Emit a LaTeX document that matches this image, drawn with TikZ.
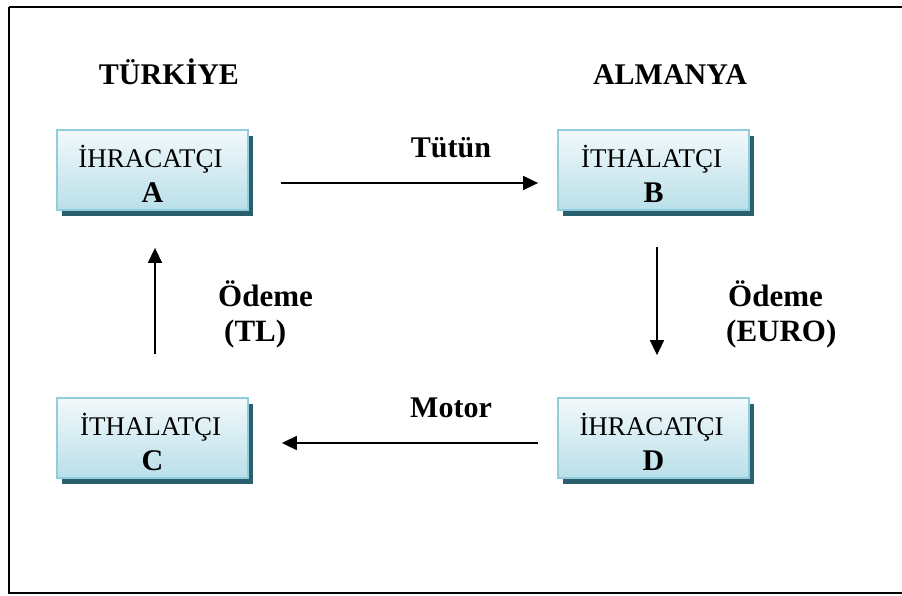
\documentclass[tikz,border=0pt]{standalone}
\usepackage{fontspec}
\setmainfont{Liberation Serif}
\usetikzlibrary{arrows.meta,shadows,calc}
\definecolor{boxborder}{HTML}{93CDDD}
\definecolor{boxtop}{HTML}{F2F9FB}
\definecolor{boxbot}{HTML}{B9DFE9}
\definecolor{boxshadow}{HTML}{2A5F6E}
\tikzset{
  party/.style={draw=boxborder, line width=1.8pt, top color=boxtop, bottom color=boxbot,
    minimum width=191pt, minimum height=80pt, inner sep=0pt,
    drop shadow={shadow xshift=4.5pt, shadow yshift=-6pt, fill=boxshadow, opacity=1}},
  boxtxt/.style={font=\fontsize{27}{30}\selectfont, inner sep=0pt, anchor=base},
  boxlet/.style={font=\fontsize{30}{34}\selectfont\bfseries, inner sep=0pt, anchor=base},
  lbl/.style={font=\fontsize{30}{34}\selectfont\bfseries, inner sep=0pt, anchor=base},
  lblw/.style={font=\fontsize{31}{34}\selectfont\bfseries, inner sep=0pt, anchor=base west},
  arr/.style={line width=1.6pt, -{Triangle[length=15pt,width=14pt]}},
}
\begin{document}
\begin{tikzpicture}[x=1pt,y=-1pt]
\useasboundingbox (0,0) rectangle (902,595);
\draw[line width=2.5pt] (9,7) -- (915,7) (9,7) -- (9,593) -- (915,593);

\node[party] (A) at (152.5,170) {};
\node[party] (B) at (653.5,170) {};
\node[party] (C) at (152.5,438) {};
\node[party] (D) at (653.5,438) {};

\node[boxtxt] (tA) at (150.5,167) {İHRACATÇI};
\node[boxlet] (lA) at (152.5,202) {A};
\node[boxtxt] (tB) at (651.5,167) {İTHALATÇI};
\node[boxlet] (lB) at (653.5,202) {B};
\node[boxtxt] (tC) at (150.5,435) {İTHALATÇI};
\node[boxlet] (lC) at (152.5,470) {C};
\node[boxtxt] (tD) at (651.5,435) {İHRACATÇI};
\node[boxlet] (lD) at (653.5,470) {D};

\node[lbl] (tr) at (169,84) {TÜRKİYE};
\node[lbl] (al) at (670,84) {ALMANYA};
\node[lbl] (tut) at (451,157) {Tütün};
\node[lbl] (mot) at (451,417) {Motor};
\node[lblw] (od1) at (218,306) {Ödeme};
\node[lblw] (tl) at (224,341) {(TL)};
\node[lblw] (od2) at (728,306) {Ödeme};
\node[lblw] (eu) at (726,341) {(EURO)};

\draw[arr] ($(A.east)+(32,13)$) -- ($(B.west)+(-19,13)$);
\draw[arr] ($(B.south)+(3.5,36)$) -- ($(D.north)+(3.5,-42)$);
\draw[arr] ($(D.west)+(-19,5)$) -- ($(C.east)+(33,5)$);
\draw[arr] ($(C.north)+(2.5,-43)$) -- ($(A.south)+(2.5,37)$);
\end{tikzpicture}
\end{document}
